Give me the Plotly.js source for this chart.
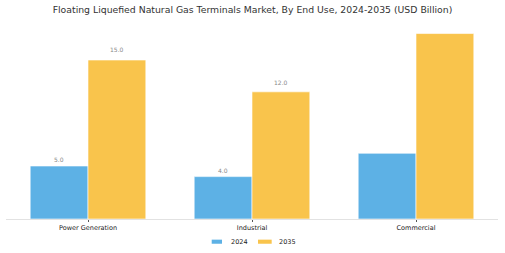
<!DOCTYPE html>
<html><head><meta charset="utf-8">
<script src="https://cdn.plot.ly/plotly-3.0.1.min.js"></script>
<style>html,body{margin:0;padding:0;background:#fff}#chart{width:505px;height:253px}</style>
</head><body><div id="chart"></div>
<script>
const categories = ["Power Generation", "Industrial", "Commercial"];
const seriesNames = ["2024", "2035"];
const values2024 = [5.0, 4.0, 6.2];
const values2035 = [15.0, 12.0, 17.5];
const labels2024 = ["5.0", "4.0", ""];
const labels2035 = ["15.0", "12.0", ""];

const blue = "#5DB1E5", yellow = "#F9C44C";
const traces = [
  {type:"bar", name:seriesNames[0], x:categories, y:values2024, marker:{color:blue, line:{color:"#ffffff", width:0.6}}},
  {type:"bar", name:seriesNames[1], x:categories, y:values2035, marker:{color:yellow, line:{color:"#ffffff", width:0.6}}}
];
const annotations = [];
function addLabels(vals, labs, xshift){
  vals.forEach((v,i)=>{ if(!labs[i]) return;
    annotations.push({x:categories[i], y:v*1.046+0.35, text:labs[i], showarrow:false, xshift:xshift,
      yanchor:"middle", font:{family:"DejaVu Sans", size:6, color:"#888"}});
  });
}
addLabels(values2024, labels2024, -29);
addLabels(values2035, labels2035, 29);

// custom legend (small flat swatches like the reference)
const shapes = [];
const legendY = -0.1164, half = 0.0105;
const sw = [[0.4181,0.4390,0.4533,blue],[0.5122,0.5400,0.5508,yellow]];
sw.forEach((s,i)=>{
  shapes.push({type:"rect", xref:"paper", yref:"paper", x0:s[0], x1:s[1], y0:legendY-half, y1:legendY+half,
    fillcolor:s[3], line:{width:0}});
  annotations.push({xref:"paper", yref:"paper", x:s[2], y:legendY, xanchor:"left", yanchor:"middle",
    text:seriesNames[i], showarrow:false, font:{family:"DejaVu Sans", size:6.5, color:"#222"}});
});

const layout = {
  width:505, height:253,
  margin:{l:6, r:7, t:24, b:34},
  paper_bgcolor:"#fff", plot_bgcolor:"#fff",
  title:{text:"Floating Liquefied Natural Gas Terminals Market, By End Use, 2024-2035 (USD Billion)",
    font:{family:"DejaVu Sans", size:9.3, color:"#333"}, x:0.5, xanchor:"center", y:0.9605, yanchor:"middle"},
  bargap:0.295, bargroupgap:0,
  barmode:"group",
  xaxis:{range:[-0.5,2.5], showline:true, linecolor:"#e2e2e2", linewidth:1, ticks:"outside", ticklen:2, tickcolor:"#555",
    tickfont:{family:"DejaVu Sans", size:6.5, color:"#222"}, showgrid:false, zeroline:false, fixedrange:true},
  yaxis:{range:[0,18.4], visible:false, showgrid:false, zeroline:false},
  showlegend:false,
  shapes:shapes,
  annotations:annotations
};
Plotly.newPlot("chart", traces, layout, {staticPlot:true, displayModeBar:false});
</script></body></html>
